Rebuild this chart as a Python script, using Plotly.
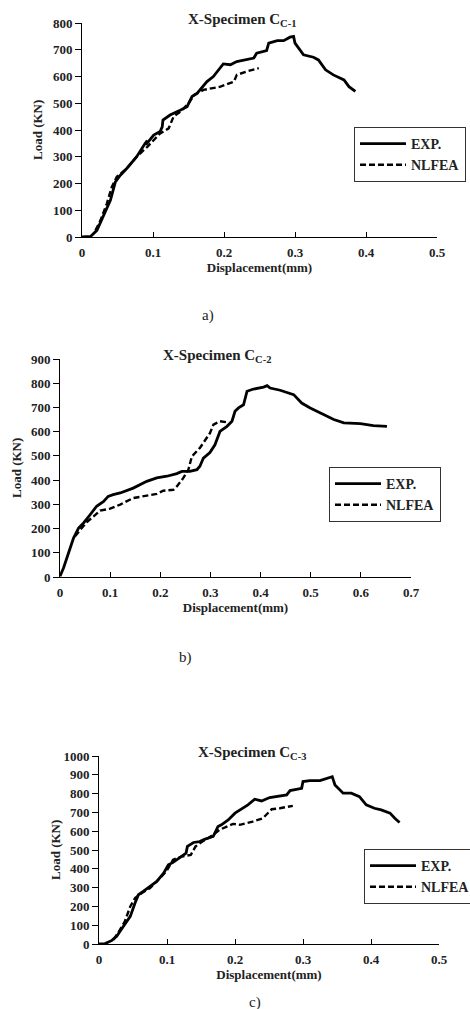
import plotly.graph_objects as go

# ---------------- Data ----------------
# Panel a) X-Specimen C_C-1
a_exp_x = [0, 0.012, 0.021, 0.03, 0.04, 0.047, 0.054, 0.063, 0.077, 0.089, 0.092, 0.09, 0.101, 0.11, 0.113, 0.114,
           0.124, 0.139, 0.148, 0.155, 0.162, 0.176, 0.185, 0.199, 0.209, 0.218, 0.242, 0.246, 0.26, 0.263,
           0.275, 0.284, 0.293, 0.298, 0.3, 0.312, 0.326, 0.333, 0.343, 0.354, 0.369, 0.376, 0.385]
a_exp_y = [0, 2, 25, 75, 137, 206, 231, 256, 300, 350, 360, 345, 381, 394, 412, 437,
           456, 475, 487, 525, 537, 581, 600, 647, 644, 656, 669, 687, 697, 725,
           734, 734, 747, 750, 725, 681, 672, 662, 625, 606, 587, 562, 544]
a_fea_x = [0.019, 0.026, 0.035, 0.042, 0.049, 0.063, 0.077, 0.092, 0.11, 0.122, 0.129, 0.139, 0.15, 0.158,
           0.171, 0.195, 0.214, 0.218, 0.232, 0.249]
a_fea_y = [25, 62, 125, 187, 225, 256, 300, 337, 387, 406, 450, 469, 500, 531,
           550, 562, 581, 606, 619, 631]

# Panel b) X-Specimen C_C-2
b_exp_x = [0, 0.007, 0.017, 0.027, 0.037, 0.047, 0.06, 0.073, 0.087, 0.096, 0.106, 0.12, 0.146, 0.173,
           0.193, 0.213, 0.233, 0.243, 0.259, 0.273, 0.279, 0.286, 0.299, 0.309, 0.319, 0.333, 0.343,
           0.349, 0.356, 0.366, 0.373, 0.386, 0.406, 0.413, 0.419, 0.439, 0.466, 0.482, 0.499, 0.526,
           0.546, 0.566, 0.599, 0.625, 0.652]
b_exp_y = [3, 37, 99, 161, 202, 223, 257, 292, 312, 333, 340, 347, 367, 395,
           409, 416, 427, 436, 436, 443, 457, 491, 514, 546, 601, 622, 643,
           684, 698, 711, 767, 776, 784, 790, 780, 771, 753, 718, 698, 670,
           650, 636, 633, 625, 622]
b_fea_x = [0.03, 0.04, 0.053, 0.067, 0.08, 0.1, 0.12, 0.146, 0.166, 0.193, 0.206, 0.226, 0.233, 0.246,
           0.256, 0.263, 0.279, 0.293, 0.299, 0.306, 0.319, 0.336]
b_fea_y = [168, 195, 226, 250, 274, 282, 299, 326, 333, 343, 356, 360, 374, 409,
           443, 498, 533, 574, 594, 629, 643, 638]

# Panel c) X-Specimen C_C-3
c_exp_x = [0, 0.009, 0.019, 0.026, 0.036, 0.046, 0.053, 0.058, 0.065, 0.075, 0.085, 0.095, 0.102, 0.109,
           0.121, 0.128, 0.13, 0.139, 0.148, 0.156, 0.168, 0.175, 0.18, 0.19, 0.2, 0.207, 0.219, 0.229,
           0.239, 0.251, 0.276, 0.281, 0.298, 0.3, 0.31, 0.325, 0.337, 0.343, 0.347, 0.359, 0.371,
           0.383, 0.393, 0.405, 0.415, 0.428, 0.435, 0.442]
c_exp_y = [0, 2, 19, 41, 94, 147, 218, 262, 280, 306, 333, 377, 421, 434,
           465, 483, 519, 540, 545, 558, 572, 625, 634, 660, 696, 713, 740, 770,
           761, 779, 793, 816, 828, 864, 869, 869, 881, 890, 846, 802, 802,
           784, 740, 722, 713, 696, 669, 646]
c_fea_x = [0.021, 0.028, 0.038, 0.046, 0.053, 0.063, 0.075, 0.087, 0.099, 0.109, 0.121, 0.135, 0.142,
           0.152, 0.168, 0.177, 0.187, 0.197, 0.207, 0.226, 0.241, 0.249, 0.254, 0.266, 0.285]
c_fea_y = [23, 58, 120, 200, 244, 271, 297, 342, 386, 448, 465, 474, 519,
           545, 581, 607, 625, 639, 634, 651, 669, 696, 717, 722, 735]

titles = ["X-Specimen C<sub>C-1</sub>", "X-Specimen C<sub>C-2</sub>", "X-Specimen C<sub>C-3</sub>"]
captions = ["a)", "b)", "c)"]
series_names = ["EXP.", "NLFEA"]

# ---------------- Layout geometry (pixels) ----------------
W, H = 470, 1009
def py(p):
    return 1 - p / H
def px(p):
    return p / W

panels = [
    dict(x0=82, x1=437, y0=237, y1=23, xr=[0, 0.5], xd=0.1, yr=[0, 800], yd=100,
         data=(a_exp_x, a_exp_y, a_fea_x, a_fea_y),
         title_xy=(242, 20), ytitle_x=37, cap_xy=(208, 315),
         leg=(354, 127)),
    dict(x0=60, x1=411, y0=577, y1=359, xr=[0, 0.7], xd=0.1, yr=[0, 900], yd=100,
         data=(b_exp_x, b_exp_y, b_fea_x, b_fea_y),
         title_xy=(217, 356), ytitle_x=17, cap_xy=(185, 657),
         leg=(329, 467)),
    dict(x0=99, x1=439, y0=944, y1=756, xr=[0, 0.5], xd=0.1, yr=[0, 1000], yd=100,
         data=(c_exp_x, c_exp_y, c_fea_x, c_fea_y),
         title_xy=(252, 753), ytitle_x=55, cap_xy=(255, 1002),
         leg=(364, 849)),
]

FONT = "Liberation Serif"
TXT = "#222"
fig = go.Figure()
layout = dict(width=W, height=H, margin=dict(l=0, r=0, t=0, b=0, autoexpand=False),
              paper_bgcolor="white", plot_bgcolor="white", annotations=[])

for i, p in enumerate(panels):
    k = "" if i == 0 else str(i + 1)
    xa, ya = "x" + k, "y" + k
    lg = "legend" + k
    ex, ey, fx, fy = p["data"]
    fig.add_trace(go.Scatter(x=ex, y=ey, mode="lines", name=series_names[0],
                             line=dict(color="black", width=2.8), xaxis=xa, yaxis=ya, legend=lg))
    fig.add_trace(go.Scatter(x=fx, y=fy, mode="lines", name=series_names[1],
                             line=dict(color="black", width=2.4, dash="6px,3px"),
                             xaxis=xa, yaxis=ya, legend=lg))
    layout["xaxis" + k] = dict(domain=[px(p["x0"]), px(p["x1"])], range=p["xr"], dtick=p["xd"],
                               tick0=0, anchor=ya, showgrid=False, zeroline=False,
                               showline=True, linecolor="black", linewidth=1,
                               ticks="inside", ticklen=5, tickcolor="black",
                               ticklabelstandoff=3, automargin=False,
                               tickfont=dict(family=FONT, size=13, color=TXT, weight="bold"),
                               title=dict(text="<b>Displacement(mm)</b>", standoff=0,
                                          font=dict(family=FONT, size=13, color=TXT)))
    layout["yaxis" + k] = dict(domain=[py(p["y0"]), py(p["y1"])], range=p["yr"], dtick=p["yd"],
                               anchor=xa, showgrid=False, zeroline=False, automargin=False,
                               showline=True, linecolor="black", linewidth=1,
                               ticks="outside", ticklen=6, tickcolor="black",
                               tickfont=dict(family=FONT, size=13, color=TXT, weight="bold"))
    layout[lg] = dict(x=px(p["leg"][0]), y=py(p["leg"][1]), xanchor="left", yanchor="top",
                      bordercolor="#333", borderwidth=1, bgcolor="white", itemwidth=46,
                      font=dict(family=FONT, size=14, color=TXT, weight="bold"), tracegroupgap=0)
    layout["annotations"].append(dict(text="<b>" + titles[i] + "</b>", x=px(p["title_xy"][0]),
                                      y=py(p["title_xy"][1]), xref="paper", yref="paper",
                                      xanchor="center", yanchor="middle",
                                      showarrow=False, font=dict(family=FONT, size=15, color=TXT)))
    layout["annotations"].append(dict(text="<b>Load (KN)</b>", x=px(p["ytitle_x"]),
                                      y=py((p["y0"] + p["y1"]) / 2), xref="paper", yref="paper",
                                      xanchor="center", yanchor="middle",
                                      textangle=-90, showarrow=False,
                                      font=dict(family=FONT, size=13, color=TXT)))
    layout["annotations"].append(dict(text=captions[i], x=px(p["cap_xy"][0]), y=py(p["cap_xy"][1]),
                                      xref="paper", yref="paper", xanchor="center", yanchor="middle",
                                      showarrow=False,
                                      font=dict(family=FONT, size=15, color=TXT)))

fig.update_layout(**layout)
fig.write_html("out.html")
